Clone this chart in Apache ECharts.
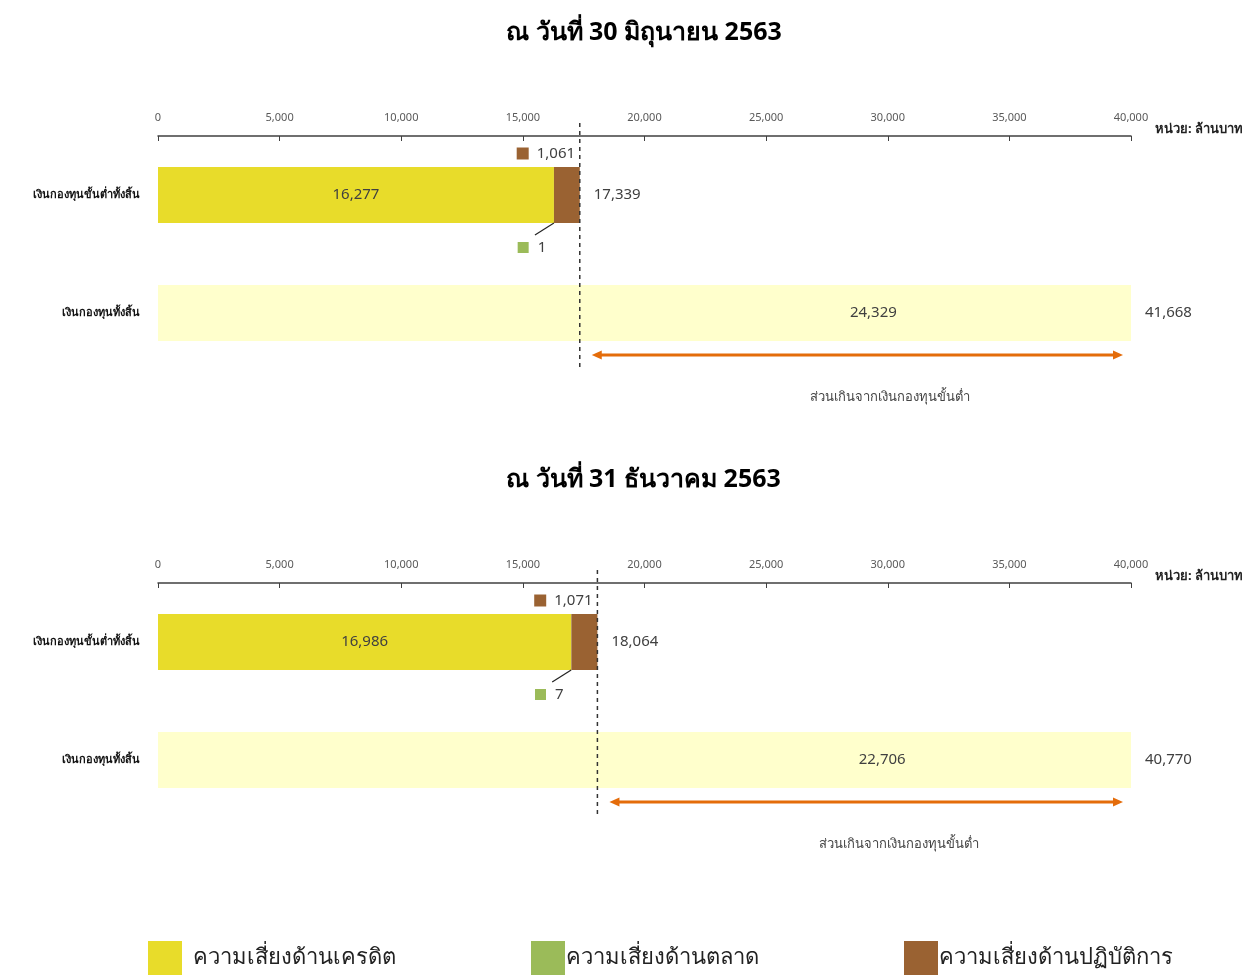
<!DOCTYPE html>
<html>
<head>
<meta charset="utf-8">
<script src="https://cdn.jsdelivr.net/npm/echarts@6/dist/echarts.min.js"></script>
<style>
  html, body { margin: 0; padding: 0; background: #fff; }
  #chart { width: 1250px; height: 975px; }
</style>
</head>
<body>
<div id="chart"></div>
<script>
// data
var periods = ['ณ วันที่ 30 มิถุนายน 2563', 'ณ วันที่ 31 ธันวาคม 2563'];
var categories = ['เงินกองทุนขั้นต่ำทั้งสิ้น', 'เงินกองทุนทั้งสิ้น'];
var creditRisk = [16277, 16986];
var marketRisk = [1, 7];
var operationalRisk = [1061, 1071];
var minCapital = [17339, 18064];
var excessCapital = [24329, 22706];
var totalCapital = [41668, 40770];
var axisMin = 0, axisMax = 40000, axisStep = 5000;
var riskNames = ['ความเสี่ยงด้านเครดิต', 'ความเสี่ยงด้านตลาด', 'ความเสี่ยงด้านปฏิบัติการ'];
var unitText = 'หน่วย: ล้านบาท';
var excessText = 'ส่วนเกินจากเงินกองทุนขั้นต่ำ';

var colors = {
  credit: '#E8DC2A',
  market: '#9BBB59',
  oper: '#9A6232',
  total: '#FFFFCC',
  arrow: '#E46C0A'
};
var numFont = "'Noto Sans', 'DejaVu Sans', sans-serif";
var gridTops = [136, 583];
var gridH = 236;
var barW = 56;

function fmt(v) {
  return Number(v).toLocaleString('en-US');
}

var chart = echarts.init(document.getElementById('chart'));

var option = {
  animation: false,
  textStyle: { fontFamily: numFont },
  title: [],
  legend: [],
  grid: [],
  xAxis: [],
  yAxis: [],
  series: []
};

var legendLeft = [148, 531, 904];
var legendGap = [6, -4, -4];
var legendColors = [colors.credit, colors.market, colors.oper];
riskNames.forEach(function (n, k) {
  option.legend.push({
    data: [{ name: n, icon: 'rect', itemStyle: { color: legendColors[k] } }],
    left: legendLeft[k],
    top: 941,
    padding: 0,
    itemWidth: 34,
    itemHeight: 34,
    selectedMode: false,
    textStyle: { fontSize: 22, color: '#222', padding: [14, 0, 0, legendGap[k]] }
  });
});

periods.forEach(function (p, i) {
  option.title.push({
    text: p,
    left: 501,
    top: gridTops[i] - 121,
    textStyle: { fontSize: 25, fontWeight: 'bold', color: '#000' }
  });
  option.grid.push({ left: 158, right: 119, top: gridTops[i], height: gridH });
  option.xAxis.push({
    type: 'value',
    gridIndex: i,
    position: 'top',
    min: axisMin,
    max: axisMax,
    interval: axisStep,
    splitLine: { show: false },
    axisLine: { show: true, lineStyle: { color: '#404040', width: 1.5 } },
    axisTick: { show: true, inside: true, length: 5, lineStyle: { color: '#404040' } },
    axisLabel: { fontSize: 11, color: '#595959', margin: 13, formatter: fmt },
    name: unitText,
    nameLocation: 'end',
    nameGap: 24,
    nameTextStyle: { fontSize: 13, fontWeight: 'bold', color: '#222', verticalAlign: 'bottom' }
  });
  option.yAxis.push({
    type: 'category',
    gridIndex: i,
    inverse: true,
    data: categories,
    axisLine: { show: false },
    axisTick: { show: false },
    axisLabel: { fontSize: 11, fontWeight: 'bold', color: '#111', margin: 18 }
  });

  var common = {
    type: 'bar',
    xAxisIndex: i,
    yAxisIndex: i,
    stack: 'cap' + i,
    barWidth: barW,
    barGap: '-100%'
  };
  option.series.push(Object.assign({}, common, {
    name: riskNames[0],
    data: [creditRisk[i], '-'],
    itemStyle: { color: colors.credit },
    label: { show: true, position: 'inside', fontSize: 15, color: '#404040', formatter: function (d) { return fmt(d.value); } }
  }));
  option.series.push(Object.assign({}, common, {
    name: riskNames[1],
    data: [marketRisk[i], '-'],
    itemStyle: { color: colors.market },
    label: {
      show: true, position: 'bottom', distance: 17, offset: [-22, 0],
      formatter: function (d) { return '{sq|}{v|' + fmt(d.value) + '}'; },
      rich: {
        sq: { width: 11, height: 11, backgroundColor: colors.market },
        v: { fontSize: 15, color: '#404040', padding: [0, 0, 0, 9] }
      }
    }
  }));
  option.series.push(Object.assign({}, common, {
    name: riskNames[2],
    data: [operationalRisk[i], '-'],
    itemStyle: { color: colors.oper },
    label: {
      show: true, position: 'top', distance: 6, offset: [-21, 0],
      formatter: function (d) { return '{sq|}{v|' + fmt(d.value) + '}'; },
      rich: {
        sq: { width: 12, height: 12, backgroundColor: colors.oper },
        v: { fontSize: 15, color: '#404040', padding: [0, 0, 0, 8] }
      }
    }
  }));
  option.series.push(Object.assign({}, common, {
    name: 'base',
    data: ['-', minCapital[i]],
    itemStyle: { color: colors.total }
  }));
  option.series.push(Object.assign({}, common, {
    name: 'excess',
    data: ['-', excessCapital[i]],
    itemStyle: { color: colors.total },
    label: { show: true, position: 'inside', offset: [18, 0], fontSize: 15, color: '#404040', formatter: function (d) { return fmt(d.value); } }
  }));
  // totals at the end of each bar
  option.series.push({
    type: 'bar',
    name: 'sum',
    xAxisIndex: i,
    yAxisIndex: i,
    barWidth: barW,
    barGap: '-100%',
    data: [minCapital[i], totalCapital[i]],
    itemStyle: { color: 'rgba(0,0,0,0)' },
    label: { show: true, position: 'right', distance: 14, fontSize: 15, color: '#404040', formatter: function (d) { return fmt(d.value); } },
    z: 1
  });
});

chart.setOption(option);

// dashed line, arrow, notes - placed through the axes
var gfx = [];
periods.forEach(function (p, i) {
  var pMin = chart.convertToPixel({ xAxisIndex: i, yAxisIndex: i }, [minCapital[i], 0]);
  var pBoundary = chart.convertToPixel({ xAxisIndex: i, yAxisIndex: i }, [creditRisk[i], 0]);
  var pTot = chart.convertToPixel({ xAxisIndex: i, yAxisIndex: i }, [minCapital[i], 1]);
  var pEnd = chart.convertToPixel({ xAxisIndex: i, yAxisIndex: i }, [axisMax, 1]);
  var top = gridTops[i];

  gfx.push({
    type: 'line',
    shape: { x1: pMin[0], y1: top - 13, x2: pMin[0], y2: top + gridH - 2 },
    style: { stroke: '#333', lineWidth: 1.5, lineDash: [4, 4] },
    z: 10
  });
  // leader line from market label to bar
  var bx = pBoundary[0], by = pBoundary[1] + barW / 2;
  gfx.push({
    type: 'line',
    shape: { x1: bx - 19, y1: by + 12, x2: bx, y2: by },
    style: { stroke: '#222', lineWidth: 1.2 },
    z: 10
  });
  // double arrow
  var ay = pTot[1] + barW / 2 + 14;
  var x1 = pMin[0] + 12, x2 = pEnd[0] - 8;
  gfx.push({
    type: 'line',
    shape: { x1: x1 + 6, y1: ay, x2: x2 - 6, y2: ay },
    style: { stroke: colors.arrow, lineWidth: 3 }
  });
  gfx.push({
    type: 'polygon',
    shape: { points: [[x1, ay], [x1 + 10, ay - 4.5], [x1 + 10, ay + 4.5]] },
    style: { fill: colors.arrow }
  });
  gfx.push({
    type: 'polygon',
    shape: { points: [[x2, ay], [x2 - 10, ay - 4.5], [x2 - 10, ay + 4.5]] },
    style: { fill: colors.arrow }
  });
  gfx.push({
    type: 'text',
    x: (x1 + x2) / 2 + 33,
    y: ay + 42,
    style: {
      text: excessText,
      fill: '#444',
      fontSize: 13,
      fontFamily: numFont,
      align: 'center',
      verticalAlign: 'middle'
    }
  });
});
chart.setOption({ graphic: gfx });
</script>
</body>
</html>
